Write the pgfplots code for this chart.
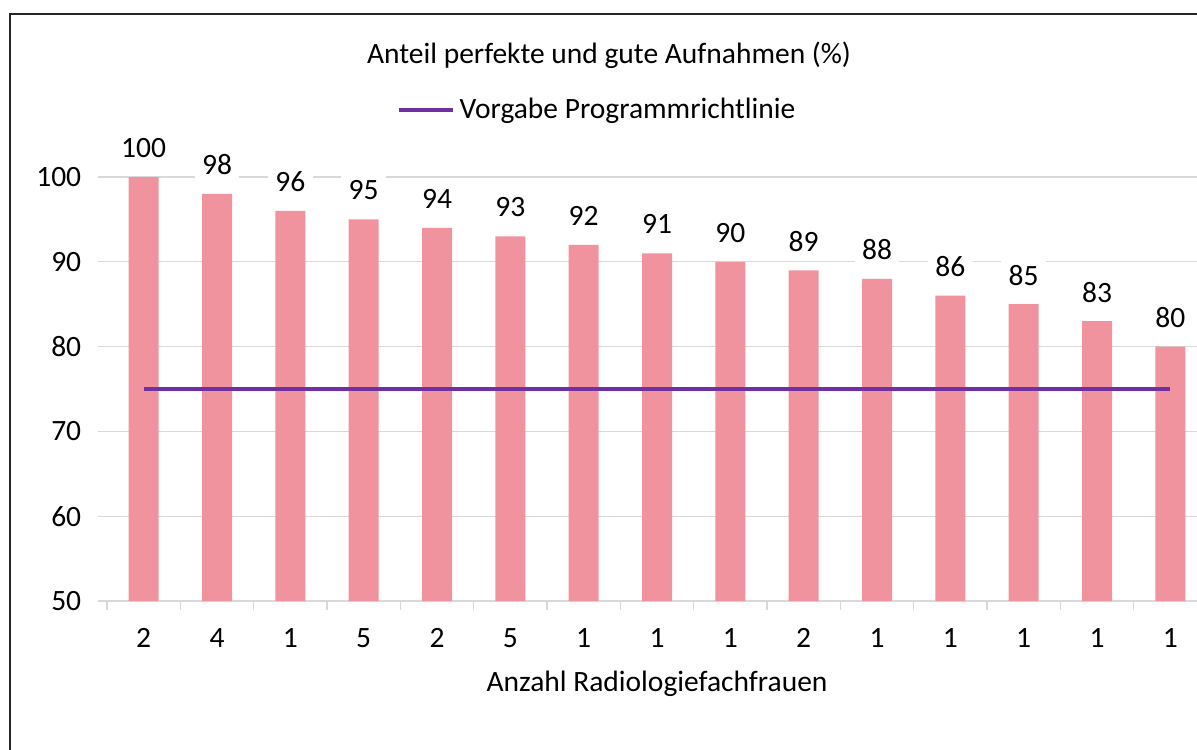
\documentclass[border=0pt]{standalone}
\usepackage{pgfplots}
\pgfplotsset{compat=1.18}
\usepackage{fontspec}
\setmainfont{Carlito}

\definecolor{barpink}{HTML}{F1939F}
\definecolor{goalpurple}{HTML}{7030A0}
\definecolor{gridgray}{HTML}{D9D9D9}

\begin{document}
\begin{tikzpicture}[x=0.4pt, y=0.4pt, font=\fontsize{11.8}{14}\selectfont]
\useasboundingbox (0,0) rectangle (1197,749);
\clip (0,0) rectangle (1197,749);
% outer chart frame, cut on the right and at the bottom
\draw[line width=0.8pt, black!85] (10,735) rectangle (1320,-60);

\node[anchor=center] at (609,694) {Anteil perfekte und gute Aufnahmen (\%)};

\begin{axis}[
  at={(42.8pt,59.2pt)}, anchor=south west,
  width=440pt, height=169.6pt, scale only axis,
  xmin=-0.5, xmax=14.5, ymin=50, ymax=100,
  axis x line*=bottom, axis y line*=left,
  x axis line style={gridgray, line width=0.5pt, -},
  y axis line style={draw=none},
  xtick={-0.5,0.5,1.5,2.5,3.5,4.5,5.5,6.5,7.5,8.5,9.5,10.5,11.5,12.5,13.5,14.5},
  x tick label as interval,
  xticklabels={2,4,1,5,2,5,1,1,1,2,1,1,1,1,1,},
  xticklabel style={yshift=-4pt},
  ytick={50,60,70,80,90,100},
  yticklabel style={xshift=-3.2pt},
  ymajorgrids, grid style={gridgray, line width=0.5pt},
  tick align=outside, major tick length=3.6pt,
  tick style={gridgray, line width=0.5pt},
  /pgf/number format/assume math mode=true,
  xlabel={Anzahl Radiologiefachfrauen},
  xlabel style={at={(axis description cs:0.5,0)}, anchor=center, yshift=-33.2pt},
  legend style={at={(0.447,1.158)}, anchor=center, draw=none, fill=none},
  legend image code/.code={\draw[#1, line width=1.4pt] (0pt,0pt) -- (21.6pt,0pt);},
]

\addplot[ybar, bar width=12pt, fill=barpink, draw=none, forget plot,
  nodes near coords,
  nodes near coords style={anchor=center, yshift=11.6pt, fill=white, inner sep=3pt,
    text=black, /pgf/number format/assume math mode=true}]
  coordinates {(0,100) (1,98) (2,96) (3,95) (4,94) (5,93) (6,92) (7,91)
               (8,90) (9,89) (10,88) (11,86) (12,85) (13,83) (14,80)};

\addplot[goalpurple, line width=1.4pt] coordinates {(0,75) (14,75)};
\addlegendentry{Vorgabe Programmrichtlinie}

\end{axis}
\end{tikzpicture}
\end{document}
